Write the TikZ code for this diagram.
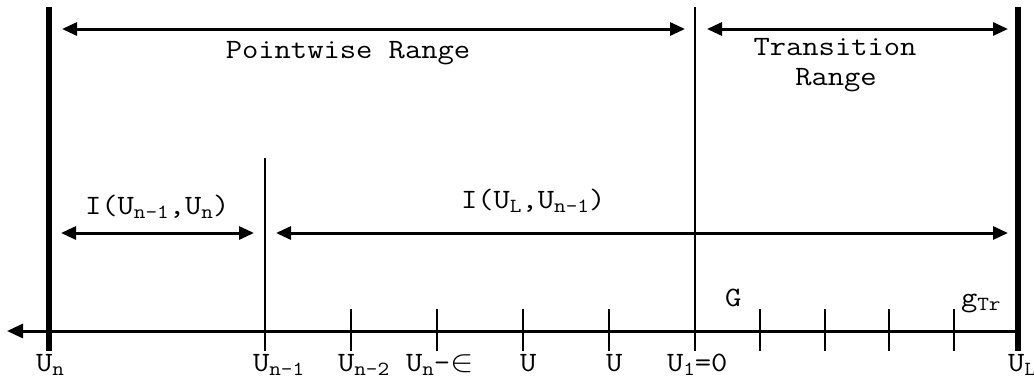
\documentclass[tikz,border=0pt]{standalone}
\usepackage{fontspec}
\usetikzlibrary{arrows.meta}
\newcommand\sbs[1]{\raisebox{-4pt}{\fontsize{20}{21}\selectfont #1}}
\newcommand\hs[1]{\scalebox{1.13}[1]{#1}}
\begin{document}
\begin{tikzpicture}[x=1pt,y=-1pt,
  lbl/.style={inner sep=0pt,outer sep=0pt,font=\fontsize{28}{30}\ttfamily},
  thickbar/.style={line width=5.5pt},
  thinbar/.style={line width=2.6pt},
  tickmark/.style={line width=2.6pt},
  axisline/.style={line width=3pt,-{Triangle[length=16pt,width=14pt]}},
  dimarrow/.style={line width=3pt,{Triangle[length=15pt,width=13pt]}-{Triangle[length=15pt,width=13pt]}}]
\useasboundingbox (0,0) rectangle (1034,378);
% coordinates
\coordinate (ntop) at (49,7);   \coordinate (nbot) at (49,351);
\coordinate (ltop) at (1018,7); \coordinate (lbot) at (1018,351);
\coordinate (ztop) at (695,7);  \coordinate (zbot) at (695,351);
\coordinate (mtop) at (265,158);\coordinate (mbot) at (265,351);
\coordinate (axR) at (1018,331); \coordinate (axL) at (7,331);
% main verticals
\draw[thickbar] (ntop) -- (nbot);
\draw[thickbar] (ltop) -- (lbot);
\draw[thinbar] (ztop) -- (zbot);
\draw[thinbar] (mtop) -- (mbot);
% axis
\draw[axisline] (axR) -- (axL);
% ticks
\foreach \t in {351,437,523,609,760,825,889,954}{
  \coordinate (tt\t) at (\t,309); \coordinate (tb\t) at (\t,351);
  \draw[tickmark] (tt\t) -- (tb\t);
}
% dimension arrows
\coordinate (a1) at (62,29);  \coordinate (a2) at (685,29);
\coordinate (a3) at (707,29); \coordinate (a4) at (1008,29);
\coordinate (b1) at (61,233); \coordinate (b2) at (254,233);
\coordinate (b3) at (276,233);\coordinate (b4) at (1008,233);
\draw[dimarrow] (a1) -- (a2);
\draw[dimarrow] (a3) -- (a4);
\draw[dimarrow] (b1) -- (b2);
\draw[dimarrow] (b3) -- (b4);
% range labels
\node[lbl,anchor=base] (pr) at (348,58) {\hs{Pointwise Range}};
\node[lbl,anchor=base] (tr1) at (835,55) {\hs{Transition}};
\node[lbl,anchor=base] (tr2) at (836,85) {\hs{Range}};
\node[lbl,anchor=base west] (i1) at (85,214) {\hs{I(U\sbs{n-1},U\sbs{n})}};
\node[lbl,anchor=base west] (i2) at (461,208) {\hs{I(U\sbs{L},U\sbs{n-1})}};
\node[lbl,anchor=base west] (gg) at (725,306) {\hs{G}};
\node[lbl,anchor=base west] (gt) at (961,306) {\hs{g\sbs{Tr}}};
% axis labels
\node[lbl,anchor=base west] (x1) at (36,371) {\hs{U\sbs{n}}};
\node[lbl,anchor=base west] (x2) at (253,371) {\hs{U\sbs{n-1}}};
\node[lbl,anchor=base west] (x3) at (338,371) {\hs{U\sbs{n-2}}};
\node[lbl,anchor=base west] (x4) at (406,371) {\hs{U\sbs{n}-\scalebox{1.25}{$\in$}}};
\node[lbl,anchor=base west] (x5) at (520,371) {\hs{U}};
\node[lbl,anchor=base west] (x6) at (606,371) {\hs{U}};
\node[lbl,anchor=base west] (x7) at (667,371) {\hs{U\sbs{1}=0}};
\node[lbl,anchor=base west] (x8) at (1008,371) {\hs{U\sbs{L}}};
\end{tikzpicture}
\end{document}
